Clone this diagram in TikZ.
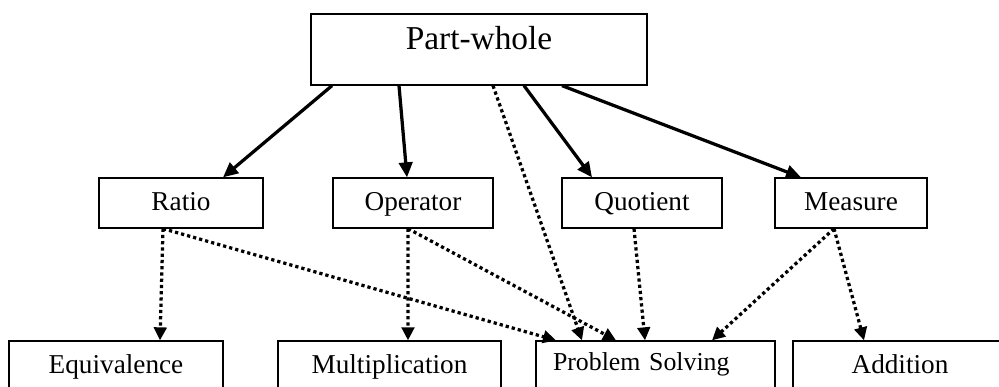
\documentclass[tikz,border=0pt]{standalone}
\usepackage{fontspec}
\setmainfont{Liberation Serif}
\usepackage{tikz}
\usetikzlibrary{positioning,calc}
\usetikzlibrary{arrows.meta}

\begin{document}
\begin{tikzpicture}[inner sep=0pt,line width=0.026cm,
	conceptbox/.style={rectangle,draw=black,font=\fontsize{15.5}{18}\selectfont},
	midbox/.style={conceptbox,minimum height=1cm,text height=0.42cm,text depth=0.1cm},
	lowbox/.style={conceptbox,minimum height=1.4cm,text height=0.3cm,text depth=0.42cm},
	mainlink/.style={-{Triangle[length=0.3cm,width=0.27cm]},line width=0.065cm},
	dotlink/.style={-{Triangle[length=0.26cm,width=0.25cm]},line width=0.065cm,dash pattern=on 0.065cm off 0.06cm}]
	\useasboundingbox (0,0) rectangle (19.98,-7.74);

	\node[conceptbox,minimum width=6.72cm,minimum height=1.42cm,text height=0.3cm,text depth=0.3cm,font=\fontsize{19}{22}\selectfont] (partwhole) at(9.58,-0.99) {Part-whole};

	\node[midbox,minimum width=3.28cm] (ratio) at(3.62,-4.06) {Ratio};
	\node[midbox,minimum width=3.2cm] (operator) at(8.26,-4.06) {Operator};
	\node[midbox,minimum width=3.2cm] (quotient) at(12.84,-4.06) {Quotient};
	\node[midbox,minimum width=3.04cm] (measure) at(17.02,-4.06) {Measure};

	\node[lowbox,minimum width=4.28cm] (equivalence) at(2.32,-7.52) {Equivalence};
	\node[lowbox,minimum width=4.46cm] (multiplication) at(7.79,-7.52) {Multiplication};
	\node[lowbox,text width=4.1cm,align=left,inner xsep=0.34cm,text depth=0.54cm,font=\fontsize{14.7}{17}\selectfont] (problemsolving) at(13.11,-7.52) {Problem Solving};
	\node[lowbox,minimum width=4.28cm] (addition) at(18.0,-7.52) {Addition};


	\draw [mainlink] ([xshift=-2.94cm]partwhole.south) -- ([xshift=0.84cm]ratio.north);
	\draw [mainlink] ([xshift=-1.6cm]partwhole.south) -- ([xshift=-0.12cm]operator.north);
	\draw [mainlink] ([xshift=0.9cm]partwhole.south) -- ([xshift=-1cm]quotient.north);
	\draw [mainlink] ([xshift=1.66cm]partwhole.south) -- ([xshift=-1cm]measure.north);

	\draw [dotlink] ([xshift=0.28cm]partwhole.south) -- ([xshift=-1.47cm]problemsolving.north);

	\draw [dotlink] ([xshift=-0.36cm]ratio.south) -- ([xshift=0.88cm]equivalence.north);
	\draw [dotlink] ([xshift=-0.36cm]ratio.south) -- ([xshift=-1.99cm]problemsolving.north);

	\draw [dotlink] ([xshift=-0.1cm]operator.south) -- ([xshift=0.37cm]multiplication.north);
	\draw [dotlink] ([xshift=-0.1cm]operator.south) -- ([xshift=-0.79cm]problemsolving.north);

	\draw [dotlink] ([xshift=-0.16cm]quotient.south) -- ([xshift=-0.21cm]problemsolving.north);

	\draw [dotlink] ([xshift=-0.34cm]measure.south) -- ([xshift=1.13cm]problemsolving.north);
	\draw [dotlink] ([xshift=-0.34cm]measure.south) -- ([xshift=-0.72cm]addition.north);

\end{tikzpicture}
\end{document}
